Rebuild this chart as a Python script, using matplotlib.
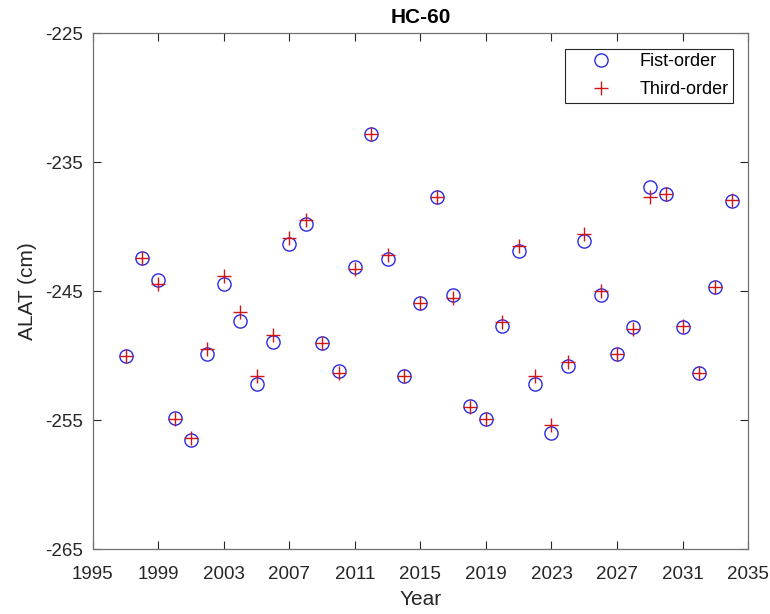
import numpy as np
import matplotlib
matplotlib.use("Agg")
import matplotlib.pyplot as plt

plt.rcParams['font.family'] = ['Liberation Sans', 'DejaVu Sans']
plt.rcParams['axes.unicode_minus'] = False

# yearly ALAT estimates from the two models (cm)
years = np.arange(1997, 2035)
first_order = [-250.0, -242.4, -244.1, -254.8, -256.5, -249.9, -244.4, -247.3,
               -252.2, -248.9, -241.3, -239.8, -249.0, -251.2, -243.1, -232.8,
               -242.5, -251.6, -245.9, -237.7, -245.3, -253.9, -254.9, -247.7,
               -241.9, -252.2, -256.0, -250.8, -241.1, -245.3, -249.9, -247.8,
               -236.9, -237.5, -247.8, -251.3, -244.7, -238.0]
third_order = [-250.0, -242.4, -244.4, -254.9, -256.4, -249.5, -243.8, -246.6,
               -251.6, -248.4, -240.9, -239.5, -249.0, -251.3, -243.3, -232.8,
               -242.2, -251.6, -245.9, -237.7, -245.5, -254.0, -254.9, -247.4,
               -241.5, -251.6, -255.4, -250.5, -240.6, -245.0, -249.9, -247.9,
               -237.7, -237.5, -247.7, -251.3, -244.7, -237.9]
xticks = np.arange(1995, 2036, 4)
yticks = np.arange(-265, -224, 10)

fig = plt.figure(figsize=(7.7, 6.14), dpi=100)
ax = fig.add_axes([0.1205, 0.1054, 0.851, 0.8405])

ax.plot(years, first_order, 'o', mfc='none', mec='#2a2ae0', ms=9.5, mew=1.0,
        label='Fist-order')
ax.plot(years, third_order, '+', color='#d01515', ms=10, mew=1.0,
        label='Third-order')

ax.set_xlim(1995, 2035)
ax.set_ylim(-265, -225)
ax.set_xticks(xticks)
ax.set_yticks(yticks)
ax.tick_params(direction='in', top=True, right=True, length=6, width=0.8,
               labelsize=13.5, colors='#262626')
ax.tick_params(axis='x', pad=12)
ax.tick_params(axis='y', pad=7)
for s in ax.spines.values():
    s.set_color('#707070')
    s.set_linewidth(0.9)

ax.set_title('HC-60', fontsize=15, fontweight='bold', pad=7)
ax.set_xlabel('Year', fontsize=15, color='#262626', labelpad=5)
ax.set_ylabel('ALAT (cm)', fontsize=15, color='#262626', labelpad=6)

leg = ax.legend(loc='upper right', bbox_to_anchor=(0.977, 0.9696), fontsize=13,
                fancybox=False, edgecolor='#262626', framealpha=1,
                handlelength=3.4, handletextpad=0.45, borderpad=0.25,
                labelspacing=0.6, borderaxespad=0)
leg.get_frame().set_linewidth(0.8)

fig.savefig('out.png', dpi=100)
